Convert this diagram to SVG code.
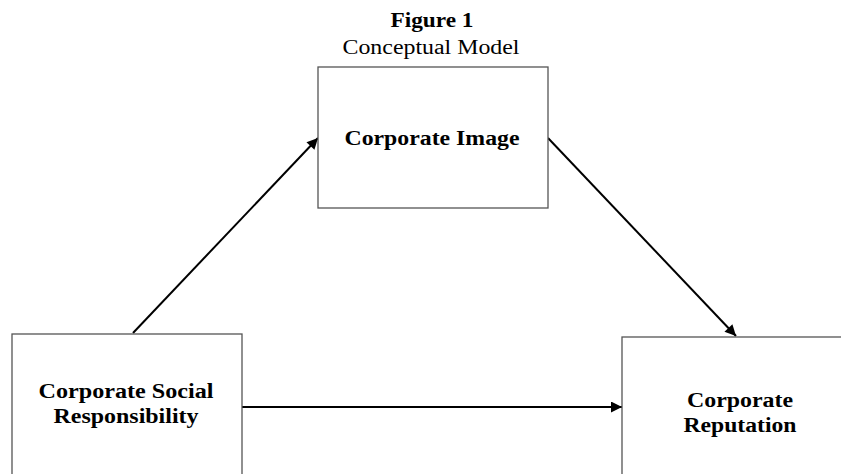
<svg xmlns="http://www.w3.org/2000/svg" width="841" height="474" viewBox="0 0 841 474">
<defs>
<marker id="ah2" viewBox="0 0 10 10" refX="10" refY="5" markerWidth="13" markerHeight="11" orient="auto" markerUnits="userSpaceOnUse">
<path d="M0,0 L10,5 L0,10 z" fill="#000"/>
</marker>
</defs>
<style>
.box{fill:#fff;stroke:#555;stroke-width:1.3}
.t{font-family:"Liberation Serif","Times New Roman",serif;fill:#000;text-anchor:middle}
.b{font-weight:bold}
.c{stroke:#000;stroke-width:2;fill:none;marker-end:url(#ah2)}
</style>
<rect width="841" height="474" fill="#fff"/>
<g id="title">
<text class="t b" x="432" y="27" font-size="20" textLength="83" lengthAdjust="spacingAndGlyphs">Figure 1</text>
<text class="t" x="431" y="54" font-size="20" textLength="177" lengthAdjust="spacingAndGlyphs">Conceptual Model</text>
</g>
<g id="connectors">
<line class="c" x1="133" y1="333" x2="318" y2="138"/>
<line class="c" x1="548" y1="138" x2="736" y2="336"/>
<line class="c" x1="242" y1="407" x2="622" y2="407"/>
</g>
<g id="image">
<rect class="box" x="318" y="67" width="230" height="141"/>
<text class="t b" x="432" y="145" font-size="20" textLength="175" lengthAdjust="spacingAndGlyphs">Corporate Image</text>
</g>
<g id="csr">
<rect class="box" x="12" y="334" width="230" height="150"/>
<text class="t b" x="126" y="398" font-size="20" textLength="175" lengthAdjust="spacingAndGlyphs">Corporate Social</text>
<text class="t b" x="126" y="423" font-size="20" textLength="145" lengthAdjust="spacingAndGlyphs">Responsibility</text>
</g>
<g id="reputation">
<rect class="box" x="622" y="337" width="240" height="150"/>
<text class="t b" x="740" y="407" font-size="20" textLength="106" lengthAdjust="spacingAndGlyphs">Corporate</text>
<text class="t b" x="740" y="432" font-size="20" textLength="113" lengthAdjust="spacingAndGlyphs">Reputation</text>
</g>
</svg>
